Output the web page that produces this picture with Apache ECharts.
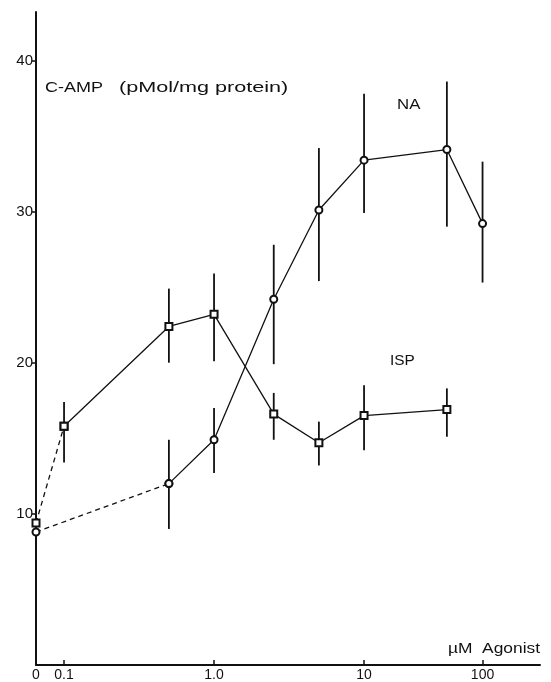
<!DOCTYPE html>
<html>
<head>
<meta charset="utf-8">
<script src="https://cdn.jsdelivr.net/npm/echarts@6/dist/echarts.min.js"></script>
<style>
  html, body { margin: 0; padding: 0; background: #fff; }
  #chart { width: 551px; height: 682px; }
</style>
</head>
<body>
<div id="chart"></div>
<script>
// dose ticks on the agonist axis (uM)
var doseTicks = [0, 0.1, 1, 10, 100];
var doseTickLabels = ['0', '0.1', '1.0', '10', '100'];

// ISP (squares)
var ispDose = [0, 0.1, 0.5, 1, 2.5, 5, 10, 50];
var ispMean = [9.4, 15.8, 22.4, 23.2, 16.6, 14.7, 16.5, 16.9];
var ispLow  = [null, 13.4, 20.0, 20.1, 14.9, 13.2, 14.2, 15.1];
var ispHigh = [null, 17.4, 24.9, 25.9, 18.0, 16.1, 18.5, 18.3];

// NA (circles)
var naDose = [0, 0.5, 1, 2.5, 5, 10, 50, 100];
var naMean = [8.8, 12.0, 14.9, 24.2, 30.1, 33.4, 34.1, 29.2];
var naLow  = [null, 9.0, 12.7, 19.9, 25.4, 29.9, 29.0, 25.3];
var naHigh = [null, 14.9, 17.0, 27.8, 34.2, 37.8, 38.6, 33.3];

// the printed axis is log-like: 0 sits left of 0.1, last decade is drawn shorter
function axisX(d) {
	if (d === 0) return -0.187;
	var l = Math.log10(d) + 1;
	return l <= 2 ? l : 2 + (l - 2) * 0.79;
}

function points(dose, mean) {
	return dose.map(function (d, i) { return [axisX(d), mean[i]]; });
}
function bars(dose, lo, hi) {
	var out = [];
	dose.forEach(function (d, i) {
		if (lo[i] != null) out.push([axisX(d), lo[i], hi[i]]);
	});
	return out;
}

var tickVals = doseTicks.map(axisX);
var font = 'Liberation Sans, Arial, sans-serif';
var ink = '#111';

function errorBars(data) {
	return {
		type: 'custom',
		data: data,
		encode: { x: 0, y: [1, 2] },
		z: 1,
		silent: true,
		renderItem: function (params, api) {
			var a = api.coord([api.value(0), api.value(1)]);
			var b = api.coord([api.value(0), api.value(2)]);
			return {
				type: 'line',
				shape: { x1: a[0], y1: a[1], x2: b[0], y2: b[1] },
				style: { stroke: ink, lineWidth: 1.8 }
			};
		}
	};
}

function lineSeries(data, symbol, dashed) {
	return {
		type: 'line',
		data: data,
		symbol: symbol,
		symbolSize: 7,
		z: 3,
		silent: true,
		lineStyle: { color: ink, width: 1.3, type: dashed ? [5, 4] : 'solid' },
		itemStyle: { color: ink, borderWidth: 1.5 }
	};
}

// wide, slightly stretched lettering like the printed figure
function label(text, left, top, size, sx) {
	return {
		type: 'text', left: left, top: top, scaleX: sx, originX: left,
		style: { text: text, font: size + 'px ' + font, fill: ink }
	};
}

var ispPts = points(ispDose, ispMean);
var naPts = points(naDose, naMean);

var chart = echarts.init(document.getElementById('chart'));
chart.setOption({
	animation: false,
	backgroundColor: '#fff',
	grid: { left: 36, right: 11, top: 12, bottom: 16 },
	xAxis: {
		type: 'value',
		min: -0.187,
		max: 3.173,
		splitLine: { show: false },
		axisLine: { lineStyle: { color: ink, width: 2 } },
		axisTick: {
			show: true, inside: true, length: 5,
			customValues: tickVals.slice(1),
			lineStyle: { color: ink, width: 1.5 }
		},
		axisLabel: {
			customValues: tickVals,
			color: ink, fontSize: 14, fontFamily: font, margin: 3,
			formatter: function (v) {
				var best = 0;
				tickVals.forEach(function (t, i) {
					if (Math.abs(t - v) < Math.abs(tickVals[best] - v)) best = i;
				});
				return doseTickLabels[best];
			}
		}
	},
	yAxis: {
		type: 'value',
		min: 0,
		max: 43.2,
		interval: 10,
		splitLine: { show: false },
		axisLine: { show: true, onZero: false, lineStyle: { color: ink, width: 2 } },
		axisTick: { show: true, length: 4, lineStyle: { color: ink, width: 1.5 } },
		axisLabel: {
			color: ink, fontSize: 15, fontFamily: font, margin: 3,
			showMinLabel: false, showMaxLabel: false
		}
	},
	graphic: [
		label('C-AMP', 45, 80, 15, 1.2),
		label('(pMol/mg protein)', 119, 80, 15, 1.44),
		label('NA', 397, 98, 14, 1.2),
		label('ISP', 390, 354, 14, 1.1),
		label('µM  Agonist', 448, 642, 14, 1.24)
	],
	series: [
		errorBars(bars(ispDose, ispLow, ispHigh)),
		errorBars(bars(naDose, naLow, naHigh)),
		lineSeries(ispPts.slice(0, 2), 'emptyRect', true),
		lineSeries(ispPts.slice(1), 'emptyRect', false),
		lineSeries(naPts.slice(0, 2), 'emptyCircle', true),
		lineSeries(naPts.slice(1), 'emptyCircle', false)
	]
});
</script>
</body>
</html>
